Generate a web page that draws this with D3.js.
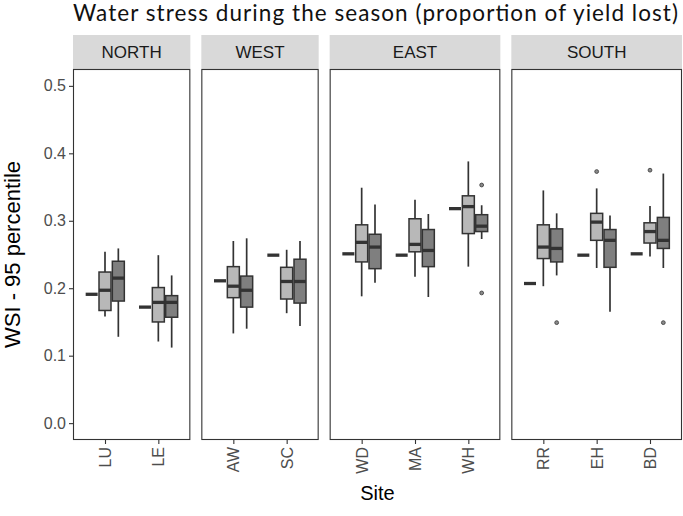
<!DOCTYPE html>
<html><head><meta charset="utf-8">
<script src="https://cdn.jsdelivr.net/npm/d3@7"></script>
<style>body{margin:0;background:#fff}svg{display:block}</style>
</head><body>
<script>
// ---- data ----
const regions = ["NORTH", "WEST", "EAST", "SOUTH"];
const sites = ["LU", "LE", "AW", "SC", "WD", "MA", "WH", "RR", "EH", "BD"];
const siteRegion = ["NORTH", "NORTH", "WEST", "WEST", "EAST", "EAST", "EAST", "SOUTH", "SOUTH", "SOUTH"];
// single reference value per site (drawn as flat box)
const baseline = [0.191, 0.172, 0.211, 0.249, 0.251, 0.249, 0.318, 0.207, 0.249, 0.251];
// [lower whisker, q1, median, q3, upper whisker]
const lightStats = [
  [0.158, 0.167, 0.197, 0.224, 0.254],
  [0.121, 0.150, 0.179, 0.201, 0.249],
  [0.133, 0.186, 0.203, 0.232, 0.270],
  [0.163, 0.184, 0.210, 0.231, 0.257],
  [0.188, 0.239, 0.268, 0.294, 0.349],
  [0.217, 0.254, 0.265, 0.303, 0.331],
  [0.232, 0.281, 0.321, 0.337, 0.388],
  [0.203, 0.244, 0.261, 0.294, 0.345],
  [0.230, 0.271, 0.298, 0.311, 0.348],
  [0.247, 0.267, 0.284, 0.297, 0.322]
];
const darkStats = [
  [0.128, 0.181, 0.215, 0.240, 0.259],
  [0.112, 0.157, 0.179, 0.189, 0.219],
  [0.140, 0.172, 0.197, 0.218, 0.274],
  [0.144, 0.178, 0.210, 0.243, 0.270],
  [0.208, 0.229, 0.261, 0.280, 0.324],
  [0.187, 0.232, 0.256, 0.287, 0.310],
  [0.273, 0.284, 0.292, 0.309, 0.323],
  [0.219, 0.239, 0.259, 0.288, 0.311],
  [0.165, 0.231, 0.271, 0.287, 0.308],
  [0.230, 0.259, 0.271, 0.305, 0.370]
];
const lightOutliers = [[], [], [], [], [], [], [], [], [0.373], [0.375]];
const darkOutliers = [[], [], [], [], [], [], [0.353, 0.193], [0.149], [], [0.149]];
const yTicks = [0.0, 0.1, 0.2, 0.3, 0.4, 0.5];
const titleText = "Water stress during the season (proportion of yield lost)";
const yTitle = "WSI - 95 percentile";
const xTitle = "Site";

// ---- layout ----
const W = 683, H = 516;
const plotL = 73, plotR = 682, panelT = 69, panelB = 440, stripT = 35, gap = 11;
const sans = "'Liberation Sans', Arial, sans-serif";
const svg = d3.select("body").append("svg").attr("width", W).attr("height", H);

const y = d3.scaleLinear().domain([-0.025, 0.525]).range([panelB, panelT]);

const panelSites = regions.map(r => sites.filter((s, i) => siteRegion[i] === r));
const units = panelSites.map(p => p.length - 1 + 1.2);
const totalUnits = d3.sum(units);
const u = (plotR - plotL - gap * (regions.length - 1)) / totalUnits;

const dodge = 0.25, boxW = 0.225;
const groups = [-1, 0, 1];
const ink = "#333333";

let x0 = plotL;
regions.forEach((reg, pi) => {
  const pw = units[pi] * u;
  const xs = d3.scalePoint().domain(panelSites[pi]).range([x0, x0 + pw]).padding(0.6);
  const g = svg.append("g");
  // strip
  g.append("rect").attr("x", x0).attr("y", stripT).attr("width", pw).attr("height", panelT - stripT)
    .attr("fill", "#d9d9d9");
  g.append("text").attr("x", x0 + pw / 2).attr("y", (stripT + panelT) / 2).attr("dy", "0.36em")
    .attr("text-anchor", "middle").attr("font-family", sans)
    .attr("font-size", 17).attr("fill", "#1a1a1a").text(reg);

  panelSites[pi].forEach(site => {
    const i = sites.indexOf(site);
    const cx = xs(site);
    const bw = boxW * u;
    const sets = [
      {st: [baseline[i], baseline[i], baseline[i], baseline[i], baseline[i]], fill: "#3a3a3a", out: []},
      {st: lightStats[i], fill: "#b8b8b8", out: lightOutliers[i]},
      {st: darkStats[i], fill: "#7f7f7f", out: darkOutliers[i]}
    ];
    sets.forEach((s, k) => {
      const c = cx + groups[k] * dodge * u;
      const [lo, q1, md, q3, hi] = s.st;
      g.append("line").attr("x1", c).attr("x2", c).attr("y1", y(hi)).attr("y2", y(q3))
        .attr("stroke", ink).attr("stroke-width", 1.7);
      g.append("line").attr("x1", c).attr("x2", c).attr("y1", y(q1)).attr("y2", y(lo))
        .attr("stroke", ink).attr("stroke-width", 1.7);
      g.append("rect").attr("x", c - bw / 2).attr("y", y(q3)).attr("width", bw)
        .attr("height", Math.max(0, y(q1) - y(q3))).attr("fill", s.fill)
        .attr("stroke", ink).attr("stroke-width", 1.5);
      g.append("line").attr("x1", c - bw / 2).attr("x2", c + bw / 2).attr("y1", y(md)).attr("y2", y(md))
        .attr("stroke", ink).attr("stroke-width", 3.3);
      s.out.forEach(v => {
        g.append("circle").attr("cx", c).attr("cy", y(v)).attr("r", 1.9)
          .attr("fill", "#8a8a8a").attr("stroke", "#444").attr("stroke-width", 0.9);
      });
    });
  });

  // panel border
  g.append("rect").attr("x", x0 + 0.5).attr("y", panelT + 0.5).attr("width", pw - 1).attr("height", panelB - panelT - 1)
    .attr("fill", "none").attr("stroke", ink).attr("stroke-width", 1.1);

  // x axis
  const ax = svg.append("g").attr("transform", `translate(0,${panelB})`)
    .call(d3.axisBottom(xs).tickSizeOuter(0).tickSizeInner(4).tickPadding(3));
  ax.select(".domain").remove();
  ax.selectAll(".tick line").attr("stroke", ink).attr("stroke-width", 1.1);
  ax.selectAll(".tick text").attr("font-family", sans).attr("font-size", 16)
    .attr("fill", "#4d4d4d").attr("text-anchor", "end").attr("dy", "0.35em")
    .attr("transform", "translate(0,3) rotate(-90)").attr("x", -4).attr("y", 0);

  x0 += pw + gap;
});

// y axis
const ay = svg.append("g").attr("transform", `translate(${plotL},0)`)
  .call(d3.axisLeft(y).tickValues(yTicks).tickFormat(d3.format(".1f")).tickSizeOuter(0).tickSizeInner(4).tickPadding(3));
ay.select(".domain").remove();
ay.selectAll(".tick line").attr("stroke", ink).attr("stroke-width", 1.1);
ay.selectAll(".tick text").attr("font-family", sans).attr("font-size", 16)
  .attr("fill", "#4d4d4d");

// axis titles
svg.append("text").attr("transform", `translate(20,${(panelT + panelB) / 2}) rotate(-90)`)
  .attr("text-anchor", "middle").attr("font-family", sans)
  .attr("font-size", 22).attr("fill", "#000").text(yTitle);
svg.append("text").attr("x", (plotL + plotR) / 2).attr("y", 500)
  .attr("text-anchor", "middle").attr("font-family", sans)
  .attr("font-size", 20).attr("fill", "#000").text(xTitle);

// title
svg.append("text").attr("x", plotL).attr("y", 21)
  .attr("font-family", "Lato, 'Open Sans', sans-serif").attr("font-size", 22.5)
  .attr("textLength", 605).attr("lengthAdjust", "spacing")
  .attr("fill", "#111").text(titleText);
</script>
</body></html>
